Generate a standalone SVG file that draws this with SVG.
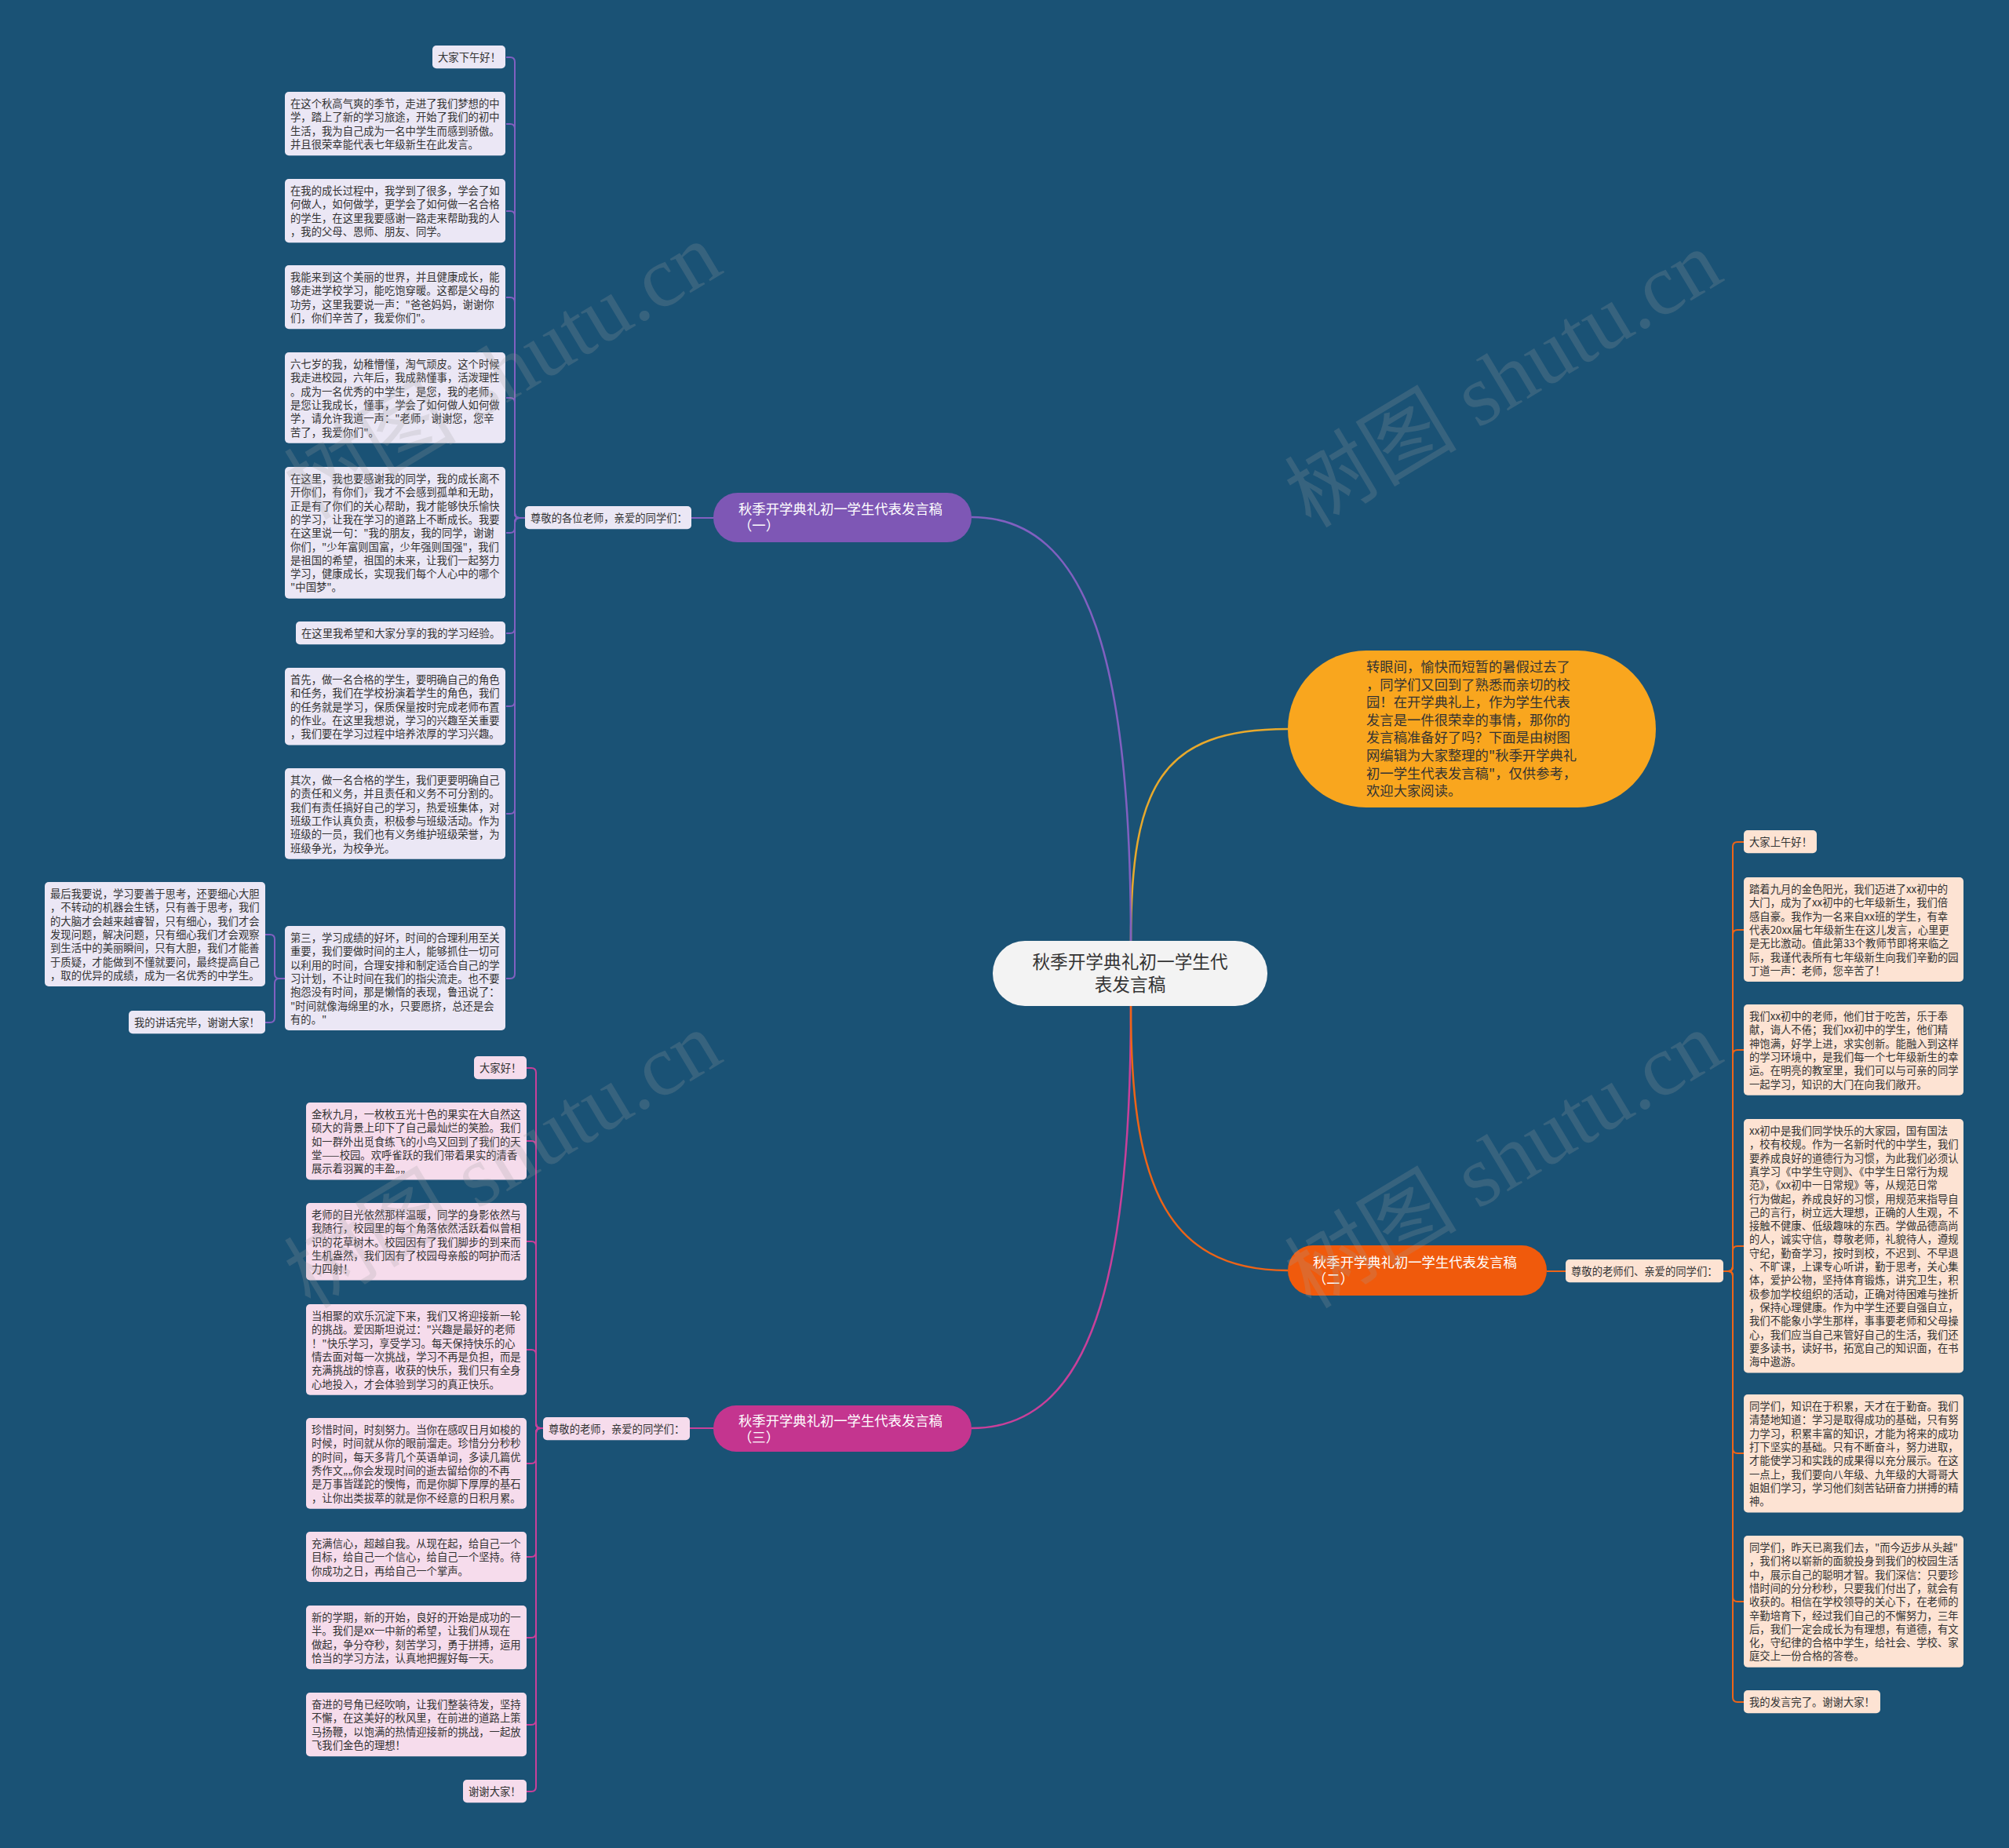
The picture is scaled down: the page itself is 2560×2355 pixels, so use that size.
<svg xmlns="http://www.w3.org/2000/svg" width="2560" height="2355" viewBox="0 0 2560 2355">
<style>
.t{font-family:"Noto Sans CJK SC","Noto Sans",sans-serif;font-size:13.33px;fill:#333}
.bp{fill:#ebe7f5}
.bm{fill:#f6dcec}
.bo{fill:#fde3d3}
.lp{fill:none;stroke:#8160c0;stroke-width:2}
.lm{fill:none;stroke:#c9409a;stroke-width:2}
.lo{fill:none;stroke:#ee6417;stroke-width:2}
.ly{fill:none;stroke:#e8a92c;stroke-width:2.5}
.mt{font-family:"Noto Sans CJK SC","Noto Sans",sans-serif;font-size:17.33px;fill:#fff}
.wm{font-family:"Liberation Serif","Noto Sans CJK SC",serif;font-size:110px;fill:#a0a0a0;opacity:0.22}
</style>
<rect x="0" y="0" width="2560" height="2355" fill="#1a5275"/>

<g id="connectors">
<path class="ly" d="M1441,1200 C1441,1000 1480,929 1641,929"/>
<path class="lp" style="stroke-width:2.5" d="M1238,659 C1390,659 1441,850 1441,1200"/>
<path class="lm" style="stroke-width:2.5" d="M1238,1820 C1390,1820 1441,1630 1441,1282"/>
<path class="lo" style="stroke-width:2.5" d="M1441,1282 C1441,1500 1480,1619 1641,1619"/>
<path class="lp" d="M909,660 H881"/>
<path class="lm" d="M909,1820 H879"/>
<path class="lo" d="M1971,1620 H1995"/>
<path class="lp" d="M669,660H662Q656,660 656,654V79Q656,73 650,73H645"/>
<path class="lp" d="M669,660H662Q656,660 656,654V164Q656,158 650,158H645"/>
<path class="lp" d="M669,660H662Q656,660 656,654V275Q656,269 650,269H645"/>
<path class="lp" d="M669,660H662Q656,660 656,654V385Q656,379 650,379H645"/>
<path class="lp" d="M669,660H662Q656,660 656,654V513Q656,507 650,507H645"/>
<path class="lp" d="M669,660H662Q656,660 656,666V673Q656,679 650,679H645"/>
<path class="lp" d="M669,660H662Q656,660 656,666V801Q656,807 650,807H645"/>
<path class="lp" d="M669,660H662Q656,660 656,666V894Q656,900 650,900H645"/>
<path class="lp" d="M669,660H662Q656,660 656,666V1031Q656,1037 650,1037H645"/>
<path class="lp" d="M669,660H662Q656,660 656,666V1241Q656,1247 650,1247H645"/>
<path class="lp" d="M363,1247H356Q350,1247 350,1241V1197Q350,1191 344,1191H338"/>
<path class="lp" d="M363,1247H356Q350,1247 350,1253V1297Q350,1303 344,1303H338"/>
<path class="lm" d="M692,1820H689Q683,1820 683,1814V1367Q683,1361 677,1361H671"/>
<path class="lm" d="M692,1820H689Q683,1820 683,1814V1460Q683,1454 677,1454H671"/>
<path class="lm" d="M692,1820H689Q683,1820 683,1814V1588Q683,1582 677,1582H671"/>
<path class="lm" d="M692,1820H689Q683,1820 683,1814V1726Q683,1720 677,1720H671"/>
<path class="lm" d="M692,1820H689Q683,1820 683,1826V1859Q683,1865 677,1865H671"/>
<path class="lm" d="M692,1820H689Q683,1820 683,1826V1978Q683,1984 677,1984H671"/>
<path class="lm" d="M692,1820H689Q683,1820 683,1826V2081Q683,2087 677,2087H671"/>
<path class="lm" d="M692,1820H689Q683,1820 683,1826V2192Q683,2198 677,2198H671"/>
<path class="lm" d="M692,1820H689Q683,1820 683,1826V2277Q683,2283 677,2283H671"/>
<path class="lo" d="M2196,1620H2202Q2208,1620 2208,1614V1079Q2208,1073 2214,1073H2222"/>
<path class="lo" d="M2196,1620H2202Q2208,1620 2208,1614V1191Q2208,1185 2214,1185H2222"/>
<path class="lo" d="M2196,1620H2202Q2208,1620 2208,1614V1344Q2208,1338 2214,1338H2222"/>
<path class="lo" d="M2196,1620H2202Q2208,1620 2208,1614V1594Q2208,1588 2214,1588H2222"/>
<path class="lo" d="M2196,1620H2202Q2208,1620 2208,1626V1846Q2208,1852 2214,1852H2222"/>
<path class="lo" d="M2196,1620H2202Q2208,1620 2208,1626V2035Q2208,2041 2214,2041H2222"/>
<path class="lo" d="M2196,1620H2202Q2208,1620 2208,1626V2163Q2208,2169 2214,2169H2222"/>
</g>

<g id="center">
<rect x="1265" y="1199" width="350" height="83" rx="41" fill="#f3f3f3"/>
<text font-family="'Noto Sans CJK SC',sans-serif" font-size="22.67" fill="#333" text-anchor="middle"><tspan x="1440" y="1234">秋季开学典礼初一学生代</tspan><tspan x="1440" y="1263">表发言稿</tspan></text>
</g>

<g id="intro">
<rect x="1641" y="829" width="469" height="200" rx="100" fill="#f9a61e"/>
<text font-family="'Noto Sans CJK SC',sans-serif" font-size="17.33" fill="#333"><tspan x="1741" y="856">转眼间，愉快而短暂的暑假过去了</tspan><tspan x="1741" dy="22.6">，同学们又回到了熟悉而亲切的校</tspan><tspan x="1741" dy="22.6">园！在开学典礼上，作为学生代表</tspan><tspan x="1741" dy="22.6">发言是一件很荣幸的事情，那你的</tspan><tspan x="1741" dy="22.6">发言稿准备好了吗？下面是由树图</tspan><tspan x="1741" dy="22.6">网编辑为大家整理的"秋季开学典礼</tspan><tspan x="1741" dy="22.6">初一学生代表发言稿"，仅供参考，</tspan><tspan x="1741" dy="22.6">欢迎大家阅读。</tspan></text>
</g>

<g id="branch1">
<rect x="909" y="628" width="329" height="63" rx="31" fill="#7e57b5"/>
<text class="mt"><tspan x="941" y="655">秋季开学典礼初一学生代表发言稿</tspan><tspan x="941" y="676">（一）</tspan></text>
</g>
<g id="branch2">
<rect x="1641" y="1587" width="330" height="64" rx="32" fill="#f05a0c"/>
<text class="mt"><tspan x="1673" y="1615">秋季开学典礼初一学生代表发言稿</tspan><tspan x="1673" y="1636">（二）</tspan></text>
</g>
<g id="branch3">
<rect x="909" y="1791" width="329" height="59" rx="29" fill="#c4358f"/>
<text class="mt"><tspan x="941" y="1817">秋季开学典礼初一学生代表发言稿</tspan><tspan x="941" y="1838">（三）</tspan></text>
</g>

<g id="label1"><rect class="bp" x="669" y="645" width="212" height="29.3" rx="5"/><text class="t" x="676" y="665">尊敬的各位老师，亲爱的同学们：</text></g>
<g id="label3"><rect class="bm" x="692" y="1806" width="187" height="29.3" rx="5"/><text class="t" x="699" y="1826">尊敬的老师，亲爱的同学们：</text></g>
<g id="label2"><rect class="bo" x="1995" y="1605" width="201" height="29.3" rx="5"/><text class="t" x="2002" y="1625">尊敬的老师们、亲爱的同学们：</text></g>

<g id="p1"><rect class="bp" x="551" y="58" width="93" height="29.3" rx="5"/><text class="t" x="558" y="78">大家下午好！</text></g>
<g id="p2"><rect class="bp" x="363" y="117" width="281" height="81.2" rx="5"/><text class="t"><tspan x="370" y="137">在这个秋高气爽的季节，走进了我们梦想的中</tspan><tspan x="370" dy="17.3">学，踏上了新的学习旅途，开始了我们的初中</tspan><tspan x="370" dy="17.3">生活，我为自己成为一名中学生而感到骄傲。</tspan><tspan x="370" dy="17.3">并且很荣幸能代表七年级新生在此发言。</tspan></text></g>
<g id="p3"><rect class="bp" x="363" y="228" width="281" height="81.2" rx="5"/><text class="t"><tspan x="370" y="248">在我的成长过程中，我学到了很多，学会了如</tspan><tspan x="370" dy="17.3">何做人，如何做学，更学会了如何做一名合格</tspan><tspan x="370" dy="17.3">的学生，在这里我要感谢一路走来帮助我的人</tspan><tspan x="370" dy="17.3">，我的父母、恩师、朋友、同学。</tspan></text></g>
<g id="p4"><rect class="bp" x="363" y="338" width="281" height="81.2" rx="5"/><text class="t"><tspan x="370" y="358">我能来到这个美丽的世界，并且健康成长，能</tspan><tspan x="370" dy="17.3">够走进学校学习，能吃饱穿暖。这都是父母的</tspan><tspan x="370" dy="17.3">功劳，这里我要说一声："爸爸妈妈，谢谢你</tspan><tspan x="370" dy="17.3">们，你们辛苦了，我爱你们"。</tspan></text></g>
<g id="p5"><rect class="bp" x="363" y="449" width="281" height="115.8" rx="5"/><text class="t"><tspan x="370" y="469">六七岁的我，幼稚懵懂，淘气顽皮。这个时候</tspan><tspan x="370" dy="17.3">我走进校园，六年后，我成熟懂事，活泼理性</tspan><tspan x="370" dy="17.3">。成为一名优秀的中学生，是您，我的老师，</tspan><tspan x="370" dy="17.3">是您让我成长，懂事，学会了如何做人如何做</tspan><tspan x="370" dy="17.3">学，请允许我道一声："老师，谢谢您，您辛</tspan><tspan x="370" dy="17.3">苦了，我爱你们"。</tspan></text></g>
<g id="p6"><rect class="bp" x="363" y="595" width="281" height="167.7" rx="5"/><text class="t"><tspan x="370" y="615">在这里，我也要感谢我的同学，我的成长离不</tspan><tspan x="370" dy="17.3">开你们，有你们，我才不会感到孤单和无助，</tspan><tspan x="370" dy="17.3">正是有了你们的关心帮助，我才能够快乐愉快</tspan><tspan x="370" dy="17.3">的学习，让我在学习的道路上不断成长。我要</tspan><tspan x="370" dy="17.3">在这里说一句："我的朋友，我的同学，谢谢</tspan><tspan x="370" dy="17.3">你们，"少年富则国富，少年强则国强"，我们</tspan><tspan x="370" dy="17.3">是祖国的希望，祖国的未来，让我们一起努力</tspan><tspan x="370" dy="17.3">学习，健康成长，实现我们每个人心中的哪个</tspan><tspan x="370" dy="17.3">"中国梦"。</tspan></text></g>
<g id="p7"><rect class="bp" x="377" y="792" width="267" height="29.3" rx="5"/><text class="t" x="384" y="812">在这里我希望和大家分享的我的学习经验。</text></g>
<g id="p8"><rect class="bp" x="363" y="851" width="281" height="98.5" rx="5"/><text class="t"><tspan x="370" y="871">首先，做一名合格的学生，要明确自己的角色</tspan><tspan x="370" dy="17.3">和任务，我们在学校扮演着学生的角色，我们</tspan><tspan x="370" dy="17.3">的任务就是学习，保质保量按时完成老师布置</tspan><tspan x="370" dy="17.3">的作业。在这里我想说，学习的兴趣至关重要</tspan><tspan x="370" dy="17.3">，我们要在学习过程中培养浓厚的学习兴趣。</tspan></text></g>
<g id="p9"><rect class="bp" x="363" y="979" width="281" height="115.8" rx="5"/><text class="t"><tspan x="370" y="999">其次，做一名合格的学生，我们更要明确自己</tspan><tspan x="370" dy="17.3">的责任和义务，并且责任和义务不可分割的。</tspan><tspan x="370" dy="17.3">我们有责任搞好自己的学习，热爱班集体，对</tspan><tspan x="370" dy="17.3">班级工作认真负责，积极参与班级活动。作为</tspan><tspan x="370" dy="17.3">班级的一员，我们也有义务维护班级荣誉，为</tspan><tspan x="370" dy="17.3">班级争光，为校争光。</tspan></text></g>
<g id="p10"><rect class="bp" x="363" y="1180" width="281" height="133" rx="5"/><text class="t"><tspan x="370" y="1200">第三，学习成绩的好坏，时间的合理利用至关</tspan><tspan x="370" dy="17.3">重要，我们要做时间的主人，能够抓住一切可</tspan><tspan x="370" dy="17.3">以利用的时间，合理安排和制定适合自己的学</tspan><tspan x="370" dy="17.3">习计划，不让时间在我们的指尖流走。也不要</tspan><tspan x="370" dy="17.3">抱怨没有时间，那是懒惰的表现，鲁迅说了：</tspan><tspan x="370" dy="17.3">"时间就像海绵里的水，只要愿挤，总还是会</tspan><tspan x="370" dy="17.3">有的。"</tspan></text></g>
<g id="p11"><rect class="bp" x="57" y="1124" width="281" height="133" rx="5"/><text class="t"><tspan x="64" y="1144">最后我要说，学习要善于思考，还要细心大胆</tspan><tspan x="64" dy="17.3">，不转动的机器会生锈，只有善于思考，我们</tspan><tspan x="64" dy="17.3">的大脑才会越来越睿智，只有细心，我们才会</tspan><tspan x="64" dy="17.3">发现问题，解决问题，只有细心我们才会观察</tspan><tspan x="64" dy="17.3">到生活中的美丽瞬间，只有大胆，我们才能善</tspan><tspan x="64" dy="17.3">于质疑，才能做到不懂就要问，最终提高自己</tspan><tspan x="64" dy="17.3">，取的优异的成绩，成为一名优秀的中学生。</tspan></text></g>
<g id="p12"><rect class="bp" x="164" y="1288" width="174" height="29.3" rx="5"/><text class="t" x="171" y="1308">我的讲话完毕，谢谢大家！</text></g>

<g id="m1"><rect class="bm" x="604" y="1346" width="67" height="29.3" rx="5"/><text class="t" x="611" y="1366">大家好！</text></g>
<g id="m2"><rect class="bm" x="390" y="1405" width="281" height="98.5" rx="5"/><text class="t"><tspan x="397" y="1425">金秋九月，一枚枚五光十色的果实在大自然这</tspan><tspan x="397" dy="17.3">硕大的背景上印下了自己最灿烂的笑脸。我们</tspan><tspan x="397" dy="17.3">如一群外出觅食练飞的小鸟又回到了我们的天</tspan><tspan x="397" dy="17.3">堂——校园。欢呼雀跃的我们带着果实的清香</tspan><tspan x="397" dy="17.3">展示着羽翼的丰盈„„</tspan></text></g>
<g id="m3"><rect class="bm" x="390" y="1533" width="281" height="98.5" rx="5"/><text class="t"><tspan x="397" y="1553">老师的目光依然那样温暖，同学的身影依然与</tspan><tspan x="397" dy="17.3">我随行，校园里的每个角落依然活跃着似曾相</tspan><tspan x="397" dy="17.3">识的花草树木。校园因有了我们脚步的到来而</tspan><tspan x="397" dy="17.3">生机盎然，我们因有了校园母亲般的呵护而活</tspan><tspan x="397" dy="17.3">力四射！</tspan></text></g>
<g id="m4"><rect class="bm" x="390" y="1662" width="281" height="115.8" rx="5"/><text class="t"><tspan x="397" y="1682">当相聚的欢乐沉淀下来，我们又将迎接新一轮</tspan><tspan x="397" dy="17.3">的挑战。爱因斯坦说过："兴趣是最好的老师</tspan><tspan x="397" dy="17.3">！"快乐学习，享受学习。每天保持快乐的心</tspan><tspan x="397" dy="17.3">情去面对每一次挑战，学习不再是负担，而是</tspan><tspan x="397" dy="17.3">充满挑战的惊喜，收获的快乐，我们只有全身</tspan><tspan x="397" dy="17.3">心地投入，才会体验到学习的真正快乐。</tspan></text></g>
<g id="m5"><rect class="bm" x="390" y="1807" width="281" height="115.8" rx="5"/><text class="t"><tspan x="397" y="1827">珍惜时间，时刻努力。当你在感叹日月如梭的</tspan><tspan x="397" dy="17.3">时候，时间就从你的眼前溜走。珍惜分分秒秒</tspan><tspan x="397" dy="17.3">的时间，每天多背几个英语单词，多读几篇优</tspan><tspan x="397" dy="17.3">秀作文„„你会发现时间的逝去留给你的不再</tspan><tspan x="397" dy="17.3">是万事皆蹉跎的懊悔，而是你脚下厚厚的基石</tspan><tspan x="397" dy="17.3">，让你出类拔萃的就是你不经意的日积月累。</tspan></text></g>
<g id="m6"><rect class="bm" x="390" y="1952" width="281" height="64" rx="5"/><text class="t"><tspan x="397" y="1972">充满信心，超越自我。从现在起，给自己一个</tspan><tspan x="397" dy="17.3">目标，给自己一个信心，给自己一个坚持。待</tspan><tspan x="397" dy="17.3">你成功之日，再给自己一个掌声。</tspan></text></g>
<g id="m7"><rect class="bm" x="390" y="2046" width="281" height="81.2" rx="5"/><text class="t"><tspan x="397" y="2066">新的学期，新的开始，良好的开始是成功的一</tspan><tspan x="397" dy="17.3">半。我们是xx一中新的希望，让我们从现在</tspan><tspan x="397" dy="17.3">做起，争分夺秒，刻苦学习，勇于拼搏，运用</tspan><tspan x="397" dy="17.3">恰当的学习方法，认真地把握好每一天。</tspan></text></g>
<g id="m8"><rect class="bm" x="390" y="2157" width="281" height="81.2" rx="5"/><text class="t"><tspan x="397" y="2177">奋进的号角已经吹响，让我们整装待发，坚持</tspan><tspan x="397" dy="17.3">不懈，在这美好的秋风里，在前进的道路上策</tspan><tspan x="397" dy="17.3">马扬鞭，以饱满的热情迎接新的挑战，一起放</tspan><tspan x="397" dy="17.3">飞我们金色的理想！</tspan></text></g>
<g id="m9"><rect class="bm" x="590" y="2268" width="81" height="29.3" rx="5"/><text class="t" x="597" y="2288">谢谢大家！</text></g>

<g id="r1"><rect class="bo" x="2222" y="1058" width="93" height="29.3" rx="5"/><text class="t" x="2229" y="1078">大家上午好！</text></g>
<g id="r2"><rect class="bo" x="2222" y="1118" width="280" height="133" rx="5"/><text class="t"><tspan x="2229" y="1138">踏着九月的金色阳光，我们迈进了xx初中的</tspan><tspan x="2229" dy="17.3">大门，成为了xx初中的七年级新生，我们倍</tspan><tspan x="2229" dy="17.3">感自豪。我作为一名来自xx班的学生，有幸</tspan><tspan x="2229" dy="17.3">代表20xx届七年级新生在这儿发言，心里更</tspan><tspan x="2229" dy="17.3">是无比激动。值此第33个教师节即将来临之</tspan><tspan x="2229" dy="17.3">际，我谨代表所有七年级新生向我们辛勤的园</tspan><tspan x="2229" dy="17.3">丁道一声：老师，您辛苦了！</tspan></text></g>
<g id="r3"><rect class="bo" x="2222" y="1280" width="280" height="115.8" rx="5"/><text class="t"><tspan x="2229" y="1300">我们xx初中的老师，他们甘于吃苦，乐于奉</tspan><tspan x="2229" dy="17.3">献，诲人不倦；我们xx初中的学生，他们精</tspan><tspan x="2229" dy="17.3">神饱满，好学上进，求实创新。能融入到这样</tspan><tspan x="2229" dy="17.3">的学习环境中，是我们每一个七年级新生的幸</tspan><tspan x="2229" dy="17.3">运。在明亮的教室里，我们可以与可亲的同学</tspan><tspan x="2229" dy="17.3">一起学习，知识的大门在向我们敞开。</tspan></text></g>
<g id="r4"><rect class="bo" x="2222" y="1426" width="280" height="323.4" rx="5"/><text class="t"><tspan x="2229" y="1446">xx初中是我们同学快乐的大家园，国有国法</tspan><tspan x="2229" dy="17.3">，校有校规。作为一名新时代的中学生，我们</tspan><tspan x="2229" dy="17.3">要养成良好的道德行为习惯，为此我们必须认</tspan><tspan x="2229" dy="17.3">真学习《中学生守则》、《中学生日常行为规</tspan><tspan x="2229" dy="17.3">范》，《xx初中一日常规》等，从规范日常</tspan><tspan x="2229" dy="17.3">行为做起，养成良好的习惯，用规范来指导自</tspan><tspan x="2229" dy="17.3">己的言行，树立远大理想，正确的人生观，不</tspan><tspan x="2229" dy="17.3">接触不健康、低级趣味的东西。学做品德高尚</tspan><tspan x="2229" dy="17.3">的人，诚实守信，尊敬老师，礼貌待人，遵规</tspan><tspan x="2229" dy="17.3">守纪，勤奋学习，按时到校，不迟到、不早退</tspan><tspan x="2229" dy="17.3">、不旷课，上课专心听讲，勤于思考，关心集</tspan><tspan x="2229" dy="17.3">体，爱护公物，坚持体育锻炼，讲究卫生，积</tspan><tspan x="2229" dy="17.3">极参加学校组织的活动，正确对待困难与挫折</tspan><tspan x="2229" dy="17.3">，保持心理健康。作为中学生还要自强自立，</tspan><tspan x="2229" dy="17.3">我们不能象小学生那样，事事要老师和父母操</tspan><tspan x="2229" dy="17.3">心，我们应当自己来管好自己的生活，我们还</tspan><tspan x="2229" dy="17.3">要多读书，读好书，拓宽自己的知识面，在书</tspan><tspan x="2229" dy="17.3">海中遨游。</tspan></text></g>
<g id="r5"><rect class="bo" x="2222" y="1777" width="280" height="150.4" rx="5"/><text class="t"><tspan x="2229" y="1797">同学们，知识在于积累，天才在于勤奋。我们</tspan><tspan x="2229" dy="17.3">清楚地知道：学习是取得成功的基础，只有努</tspan><tspan x="2229" dy="17.3">力学习，积累丰富的知识，才能为将来的成功</tspan><tspan x="2229" dy="17.3">打下坚实的基础。只有不断奋斗，努力进取，</tspan><tspan x="2229" dy="17.3">才能使学习和实践的成果得以充分展示。在这</tspan><tspan x="2229" dy="17.3">一点上，我们要向八年级、九年级的大哥哥大</tspan><tspan x="2229" dy="17.3">姐姐们学习，学习他们刻苦钻研奋力拼搏的精</tspan><tspan x="2229" dy="17.3">神。</tspan></text></g>
<g id="r6"><rect class="bo" x="2222" y="1957" width="280" height="167.7" rx="5"/><text class="t"><tspan x="2229" y="1977">同学们，昨天已离我们去，"而今迈步从头越"</tspan><tspan x="2229" dy="17.3">，我们将以崭新的面貌投身到我们的校园生活</tspan><tspan x="2229" dy="17.3">中，展示自己的聪明才智。我们深信：只要珍</tspan><tspan x="2229" dy="17.3">惜时间的分分秒秒，只要我们付出了，就会有</tspan><tspan x="2229" dy="17.3">收获的。相信在学校领导的关心下，在老师的</tspan><tspan x="2229" dy="17.3">辛勤培育下，经过我们自己的不懈努力，三年</tspan><tspan x="2229" dy="17.3">后，我们一定会成长为有理想，有道德，有文</tspan><tspan x="2229" dy="17.3">化，守纪律的合格中学生，给社会、学校、家</tspan><tspan x="2229" dy="17.3">庭交上一份合格的答卷。</tspan></text></g>
<g id="r7"><rect class="bo" x="2222" y="2154" width="174" height="29.3" rx="5"/><text class="t" x="2229" y="2174">我的发言完了。谢谢大家！</text></g>

<g id="watermarks">
<text class="wm" text-anchor="middle" transform="translate(660,505) rotate(-31)">树图 shutu.cn</text>
<text class="wm" text-anchor="middle" transform="translate(1935,515) rotate(-31)">树图 shutu.cn</text>
<text class="wm" text-anchor="middle" transform="translate(660,1510) rotate(-31)">树图 shutu.cn</text>
<text class="wm" text-anchor="middle" transform="translate(1935,1510) rotate(-31)">树图 shutu.cn</text>
</g>
</svg>
